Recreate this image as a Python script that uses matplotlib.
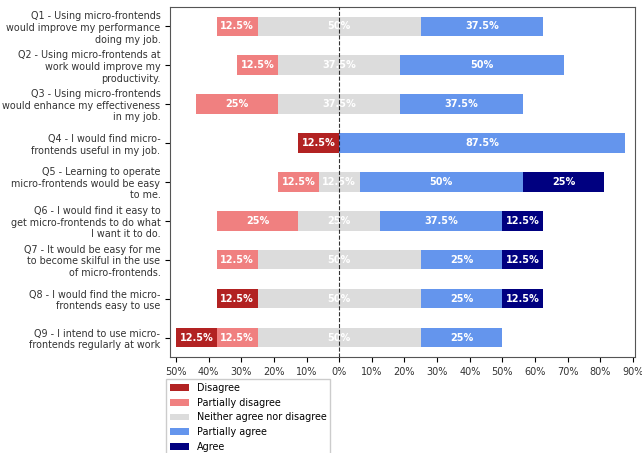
import numpy as np
import matplotlib
matplotlib.use('Agg')
import matplotlib.pyplot as plt

questions = [
    "Q1 - Using micro-frontends\nwould improve my performance\ndoing my job.",
    "Q2 - Using micro-frontends at\nwork would improve my\nproductivity.",
    "Q3 - Using micro-frontends\nwould enhance my effectiveness\nin my job.",
    "Q4 - I would find micro-\nfrontends useful in my job.",
    "Q5 - Learning to operate\nmicro-frontends would be easy\nto me.",
    "Q6 - I would find it easy to\nget micro-frontends to do what\nI want it to do.",
    "Q7 - It would be easy for me\nto become skilful in the use\nof micro-frontends.",
    "Q8 - I would find the micro-\nfrontends easy to use",
    "Q9 - I intend to use micro-\nfrontends regularly at work",
]
categories = ["Disagree", "Partially disagree", "Neither agree nor disagree",
              "Partially agree", "Agree"]
disagree = [0, 0, 0, 12.5, 0, 0, 0, 12.5, 12.5]
partially_disagree = [12.5, 12.5, 25, 0, 12.5, 25, 12.5, 0, 12.5]
neutral = [50, 37.5, 37.5, 0, 12.5, 25, 50, 50, 50]
partially_agree = [37.5, 50, 37.5, 87.5, 50, 37.5, 25, 25, 25]
agree = [0, 0, 0, 0, 25, 12.5, 12.5, 12.5, 0]
colors = ["#b22222", "#f08080", "#dcdcdc", "#6495ed", "#000080"]
x_ticks = [-50, -40, -30, -20, -10, 0, 10, 20, 30, 40, 50, 60, 70, 80, 90]

data = np.array([disagree, partially_disagree, neutral, partially_agree, agree]).T
y = np.arange(len(questions))

fig = plt.figure(figsize=(6.42, 4.53), dpi=100)
ax = fig.add_axes([0.265, 0.212, 0.724, 0.773])

# left edge of each bar: everything negative plus half of the neutral share
starts = -(data[:, 0] + data[:, 1] + data[:, 2] / 2)
left = starts.copy()
for i, cat in enumerate(categories):
    widths = data[:, i]
    ax.barh(y, widths, left=left, height=0.5, color=colors[i], label=cat)
    for yy, l, w in zip(y, left, widths):
        if w > 0:
            ax.text(l + w / 2, yy, f"{w:g}%", ha='center', va='center',
                    color='white', fontsize=7, fontweight='bold')
    left = left + widths

ax.axvline(0, color='black', linestyle='--', linewidth=0.8, alpha=0.8, zorder=5)
ax.set_yticks(y)
ax.set_yticklabels(questions, fontsize=6.9, color='#333333')
ax.set_ylim(8.5, -0.5)
ax.set_xlim(-51.8, 90.6)
ax.set_xticks(x_ticks)
ax.set_xticklabels([f"{abs(t)}%" for t in x_ticks], fontsize=7, color='#333333')
for s in ax.spines.values():
    s.set_color('#555555')

fig.legend(loc='upper left', bbox_to_anchor=(0.2586, 0.1634), borderaxespad=0,
           fontsize=6.9, fancybox=False, framealpha=1, edgecolor='#cccccc')

fig.savefig('out.png', dpi=100)
